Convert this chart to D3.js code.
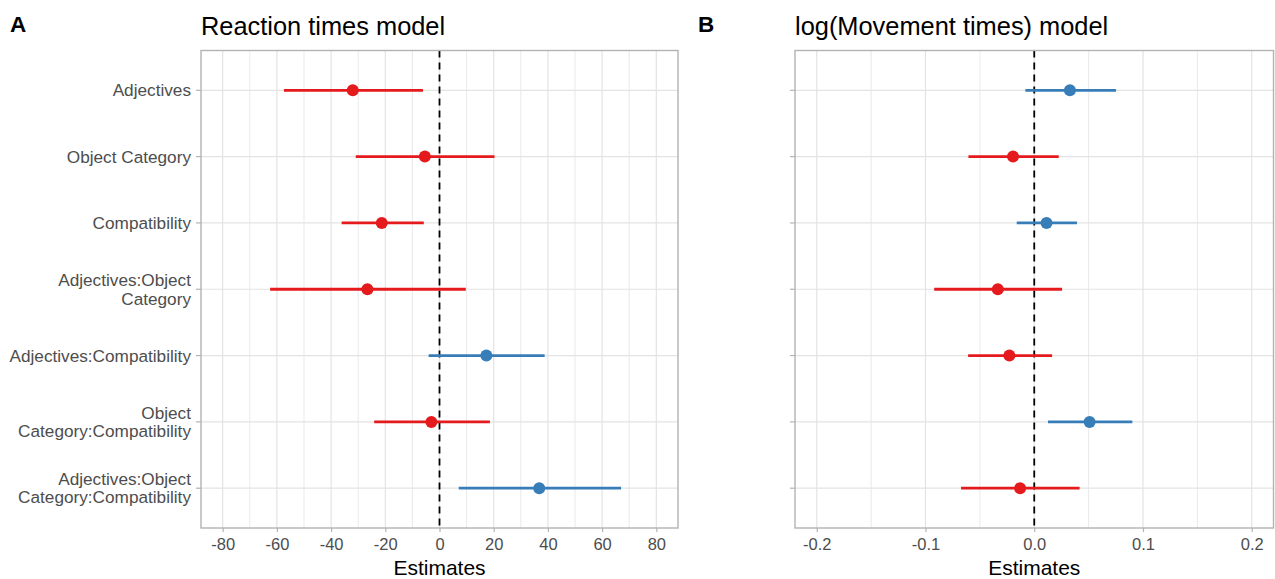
<!DOCTYPE html>
<html>
<head>
<meta charset="utf-8">
<script src="https://cdn.jsdelivr.net/npm/d3@7"></script>
<style>
  body { margin: 0; background: #fff; }
  text { font-family: "Liberation Sans", Arial, sans-serif; }
</style>
</head>
<body>
<div id="chart"></div>
<script>
// Terms (top to bottom), "\n" = line break in label
var terms = ["Adjectives", "Object Category", "Compatibility", "Adjectives:Object\nCategory",
  "Adjectives:Compatibility", "Object\nCategory:Compatibility", "Adjectives:Object\nCategory:Compatibility"];

// Panel A: reaction times model
var rtEst = [-32.0, -5.4, -21.3, -26.6, 17.3, -3.0, 36.8];
var rtLow = [-57.4, -30.9, -36.1, -62.5, -4.0, -24.1, 7.1];
var rtHigh = [-6.1, 20.3, -5.8, 9.7, 38.8, 18.6, 67.0];
var rtTicks = [-80, -60, -40, -20, 0, 20, 40, 60, 80];
var rtMinor = [-70, -50, -30, -10, 10, 30, 50, 70];

// Panel B: log(movement times) model
var mtEst = [0.0328, -0.0195, 0.0113, -0.0335, -0.0229, 0.0509, -0.0130];
var mtLow = [-0.0082, -0.0605, -0.0161, -0.0920, -0.0608, 0.0126, -0.0673];
var mtHigh = [0.0752, 0.0225, 0.0393, 0.0256, 0.0164, 0.0902, 0.0417];
var mtTicks = [-0.2, -0.1, 0.0, 0.1, 0.2];
var mtMinor = [-0.15, -0.05, 0.05, 0.15];

var red = "#E41A1C", blue = "#377EB8";
var gridCol = "#e3e3e3", borderCol = "#b3b3b3", textCol = "#4d4d4d";

var svg = d3.select("#chart").append("svg")
  .attr("width", 1275)
  .attr("height", 579);

// plain hyphen instead of unicode minus
function hyphen(f) {
  return function(d) { return f(d).replace("\u2212", "-"); };
}

function panel(opt) {
  var top = 50.5, bottom = 528;
  var x = d3.scaleLinear().domain(opt.domain).range([opt.left, opt.right]);
  var y = d3.scalePoint().domain(d3.range(terms.length)).range([top, bottom]).padding(0.6);
  var g = svg.append("g");

  //Gridlines
  g.selectAll("line.minor").data(opt.minor).enter().append("line")
    .attr("x1", d => x(d)).attr("x2", d => x(d))
    .attr("y1", top).attr("y2", bottom)
    .attr("stroke", gridCol).attr("stroke-width", 0.8);
  g.selectAll("line.major").data(opt.ticks).enter().append("line")
    .attr("x1", d => x(d)).attr("x2", d => x(d))
    .attr("y1", top).attr("y2", bottom)
    .attr("stroke", gridCol).attr("stroke-width", 1.2);
  g.selectAll("line.hgrid").data(d3.range(terms.length)).enter().append("line")
    .attr("x1", opt.left).attr("x2", opt.right)
    .attr("y1", d => y(d)).attr("y2", d => y(d))
    .attr("stroke", gridCol).attr("stroke-width", 1.2);

  //Null line
  g.append("line")
    .attr("x1", x(0)).attr("x2", x(0))
    .attr("y1", top).attr("y2", bottom)
    .attr("stroke", "#000").attr("stroke-width", 1.8)
    .attr("stroke-dasharray", "7,5");

  //Intervals and points
  var rows = d3.range(terms.length).map(i => ({i: i, est: opt.est[i], lo: opt.low[i], hi: opt.high[i]}));
  g.selectAll("line.ci").data(rows).enter().append("line")
    .attr("x1", d => x(d.lo)).attr("x2", d => x(d.hi))
    .attr("y1", d => y(d.i)).attr("y2", d => y(d.i))
    .attr("stroke", d => d.est > 0 ? blue : red)
    .attr("stroke-width", 2.8);
  g.selectAll("circle").data(rows).enter().append("circle")
    .attr("cx", d => x(d.est)).attr("cy", d => y(d.i))
    .attr("r", 6)
    .attr("fill", d => d.est > 0 ? blue : red);

  //Rahmen
  g.append("rect")
    .attr("x", opt.left).attr("y", top)
    .attr("width", opt.right - opt.left).attr("height", bottom - top)
    .attr("fill", "none").attr("stroke", borderCol).attr("stroke-width", 1.4);

  //x axis
  var xAxis = g.append("g")
    .attr("transform", "translate(0," + bottom + ")")
    .call(d3.axisBottom(x).tickValues(opt.ticks).tickFormat(hyphen(opt.fmt))
      .tickSize(4).tickSizeOuter(0).tickPadding(6));
  xAxis.select(".domain").remove();
  xAxis.selectAll("line").attr("stroke", borderCol).attr("stroke-width", 1.2);
  xAxis.selectAll("text").attr("fill", textCol).attr("font-size", "16.5px")
    .attr("font-family", "Liberation Sans, Arial, sans-serif");

  //y ticks
  g.selectAll("line.ytick").data(d3.range(terms.length)).enter().append("line")
    .attr("x1", opt.left - 5).attr("x2", opt.left)
    .attr("y1", d => y(d)).attr("y2", d => y(d))
    .attr("stroke", borderCol).attr("stroke-width", 1.2);

  //y labels
  if (opt.labels) {
    terms.forEach(function(t, i) {
      var lines = t.split("\n");
      var lh = 18.5;
      var txt = g.append("text")
        .attr("text-anchor", "end")
        .attr("fill", textCol)
        .attr("font-size", "17.2px");
      lines.forEach(function(l, k) {
        txt.append("tspan")
          .attr("x", opt.left - 10)
          .attr("y", y(i) + 6 + (k - (lines.length - 1) / 2) * lh)
          .text(l);
      });
    });
  }

  //Titel
  svg.append("text")
    .attr("x", opt.left).attr("y", 35)
    .attr("font-size", "25.4px").attr("fill", "#000")
    .text(opt.title);
  svg.append("text")
    .attr("x", (opt.left + opt.right) / 2).attr("y", 575)
    .attr("text-anchor", "middle")
    .attr("font-size", "21px").attr("fill", "#000")
    .text("Estimates");
  svg.append("text")
    .attr("x", opt.tagX).attr("y", 31.5)
    .attr("font-size", "22.5px").attr("font-weight", "bold").attr("fill", "#000")
    .text(opt.tag);
}

panel({
  left: 201, right: 678, domain: [-88, 88],
  ticks: rtTicks, minor: rtMinor, fmt: d3.format("d"),
  est: rtEst, low: rtLow, high: rtHigh,
  labels: true, title: "Reaction times model", tag: "A", tagX: 10
});
panel({
  left: 795, right: 1273.5, domain: [-0.22, 0.22],
  ticks: mtTicks, minor: mtMinor, fmt: d3.format(".1f"),
  est: mtEst, low: mtLow, high: mtHigh,
  labels: false, title: "log(Movement times) model", tag: "B", tagX: 698
});
</script>
</body>
</html>
